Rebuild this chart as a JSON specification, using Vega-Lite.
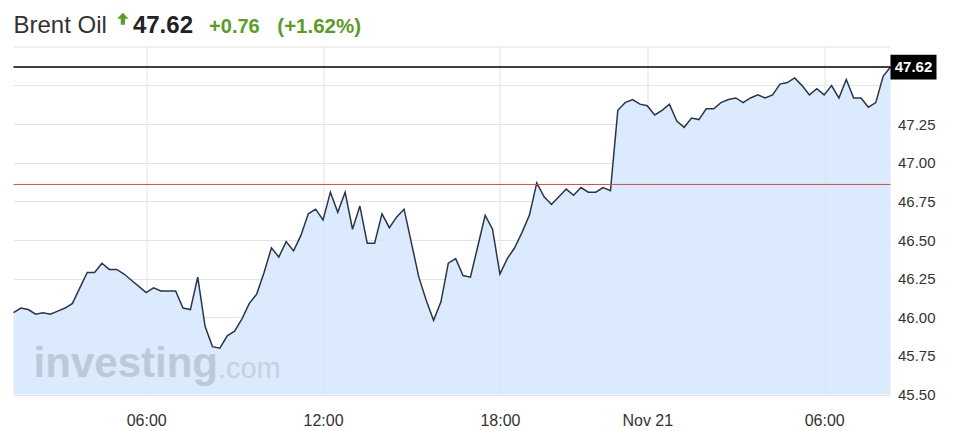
{
  "$schema": "https://vega.github.io/schema/vega-lite/v6.json",
  "width": 877,
  "height": 347.5,
  "autosize": {"type": "none"},
  "padding": {"left": 13.5, "top": 47, "right": 62.5, "bottom": 36.5},
  "background": "#ffffff",
  "datasets": {
    "prices": [
      {"time": "11-20 01:30", "price": 46.03}, {"time": "11-20 01:45", "price": 46.06}, {"time": "11-20 02:00", "price": 46.05}, {"time": "11-20 02:15", "price": 46.02},
      {"time": "11-20 02:30", "price": 46.03}, {"time": "11-20 02:45", "price": 46.02}, {"time": "11-20 03:00", "price": 46.04}, {"time": "11-20 03:15", "price": 46.06},
      {"time": "11-20 03:30", "price": 46.09}, {"time": "11-20 03:45", "price": 46.19}, {"time": "11-20 04:00", "price": 46.29}, {"time": "11-20 04:15", "price": 46.29},
      {"time": "11-20 04:30", "price": 46.35}, {"time": "11-20 04:45", "price": 46.31}, {"time": "11-20 05:00", "price": 46.31}, {"time": "11-20 05:15", "price": 46.28},
      {"time": "11-20 05:30", "price": 46.24}, {"time": "11-20 05:45", "price": 46.2}, {"time": "11-20 06:00", "price": 46.16}, {"time": "11-20 06:15", "price": 46.19},
      {"time": "11-20 06:30", "price": 46.17}, {"time": "11-20 06:45", "price": 46.17}, {"time": "11-20 07:00", "price": 46.17}, {"time": "11-20 07:15", "price": 46.06},
      {"time": "11-20 07:30", "price": 46.05}, {"time": "11-20 07:45", "price": 46.26}, {"time": "11-20 08:00", "price": 45.94}, {"time": "11-20 08:15", "price": 45.81},
      {"time": "11-20 08:30", "price": 45.8}, {"time": "11-20 08:45", "price": 45.88}, {"time": "11-20 09:00", "price": 45.91}, {"time": "11-20 09:15", "price": 45.99},
      {"time": "11-20 09:30", "price": 46.09}, {"time": "11-20 09:45", "price": 46.15}, {"time": "11-20 10:00", "price": 46.29}, {"time": "11-20 10:15", "price": 46.45},
      {"time": "11-20 10:30", "price": 46.39}, {"time": "11-20 10:45", "price": 46.49}, {"time": "11-20 11:00", "price": 46.43}, {"time": "11-20 11:15", "price": 46.53},
      {"time": "11-20 11:30", "price": 46.67}, {"time": "11-20 11:45", "price": 46.7}, {"time": "11-20 12:00", "price": 46.63}, {"time": "11-20 12:15", "price": 46.81},
      {"time": "11-20 12:30", "price": 46.68}, {"time": "11-20 12:45", "price": 46.81}, {"time": "11-20 13:00", "price": 46.57}, {"time": "11-20 13:15", "price": 46.72},
      {"time": "11-20 13:30", "price": 46.48}, {"time": "11-20 13:45", "price": 46.48}, {"time": "11-20 14:00", "price": 46.67}, {"time": "11-20 14:15", "price": 46.58},
      {"time": "11-20 14:30", "price": 46.65}, {"time": "11-20 14:45", "price": 46.7}, {"time": "11-20 15:00", "price": 46.48}, {"time": "11-20 15:15", "price": 46.26},
      {"time": "11-20 15:30", "price": 46.11}, {"time": "11-20 15:45", "price": 45.98}, {"time": "11-20 16:00", "price": 46.1}, {"time": "11-20 16:15", "price": 46.35},
      {"time": "11-20 16:30", "price": 46.38}, {"time": "11-20 16:45", "price": 46.27}, {"time": "11-20 17:00", "price": 46.26}, {"time": "11-20 17:15", "price": 46.46},
      {"time": "11-20 17:30", "price": 46.66}, {"time": "11-20 17:45", "price": 46.57}, {"time": "11-20 18:00", "price": 46.28}, {"time": "11-20 18:15", "price": 46.38},
      {"time": "11-20 18:30", "price": 46.45}, {"time": "11-20 18:45", "price": 46.55}, {"time": "11-20 19:00", "price": 46.66}, {"time": "11-20 19:15", "price": 46.87},
      {"time": "11-20 19:30", "price": 46.78}, {"time": "11-20 19:45", "price": 46.73}, {"time": "11-20 20:00", "price": 46.78}, {"time": "11-20 20:15", "price": 46.83},
      {"time": "11-20 20:30", "price": 46.79}, {"time": "11-20 20:45", "price": 46.84}, {"time": "11-20 21:00", "price": 46.81}, {"time": "11-20 21:15", "price": 46.81},
      {"time": "11-20 21:30", "price": 46.84}, {"time": "11-20 21:45", "price": 46.82}, {"time": "11-20 23:00", "price": 47.34}, {"time": "11-20 23:15", "price": 47.39},
      {"time": "11-20 23:30", "price": 47.41}, {"time": "11-20 23:45", "price": 47.38}, {"time": "11-21 00:00", "price": 47.37}, {"time": "11-21 00:15", "price": 47.31},
      {"time": "11-21 00:30", "price": 47.34}, {"time": "11-21 00:45", "price": 47.38}, {"time": "11-21 01:00", "price": 47.27}, {"time": "11-21 01:15", "price": 47.23},
      {"time": "11-21 01:30", "price": 47.29}, {"time": "11-21 01:45", "price": 47.28}, {"time": "11-21 02:00", "price": 47.35}, {"time": "11-21 02:15", "price": 47.35},
      {"time": "11-21 02:30", "price": 47.39}, {"time": "11-21 02:45", "price": 47.41}, {"time": "11-21 03:00", "price": 47.42}, {"time": "11-21 03:15", "price": 47.39},
      {"time": "11-21 03:30", "price": 47.42}, {"time": "11-21 03:45", "price": 47.44}, {"time": "11-21 04:00", "price": 47.42}, {"time": "11-21 04:15", "price": 47.44},
      {"time": "11-21 04:30", "price": 47.51}, {"time": "11-21 04:45", "price": 47.52}, {"time": "11-21 05:00", "price": 47.55}, {"time": "11-21 05:15", "price": 47.5},
      {"time": "11-21 05:30", "price": 47.44}, {"time": "11-21 05:45", "price": 47.48}, {"time": "11-21 06:00", "price": 47.44}, {"time": "11-21 06:15", "price": 47.5},
      {"time": "11-21 06:30", "price": 47.42}, {"time": "11-21 06:45", "price": 47.54}, {"time": "11-21 07:00", "price": 47.42}, {"time": "11-21 07:15", "price": 47.42},
      {"time": "11-21 07:30", "price": 47.36}, {"time": "11-21 07:45", "price": 47.39}, {"time": "11-21 08:00", "price": 47.56}, {"time": "11-21 08:15", "price": 47.62}
    ],
    "upperGrid": [{"level": 47.5}, {"level": 47.75}]
  },
  "config": {
    "view": {"stroke": null},
    "font": "Liberation Sans",
    "axis": {"ticks": false, "domain": false, "gridColor": "#e3e3e3", "gridWidth": 1, "labelFont": "Liberation Sans", "labelColor": "#333333", "title": null, "labelOverlap": false}
  },
  "layer": [
    {
      "data": {"name": "upperGrid"},
      "mark": {"type": "rule", "color": "#e3e3e3", "strokeWidth": 1},
      "encoding": {"y": {"field": "level", "type": "quantitative"}}
    },
    {
      "data": {"name": "prices"},
      "mark": {"type": "area", "color": "#d5e6fc", "opacity": 0.85},
      "encoding": {
        "x": {"field": "time", "type": "ordinal", "scale": {"type": "point", "padding": 0},
              "axis": {"title": null, "values": ["11-20 06:00", "11-20 12:00", "11-20 18:00", "11-21 00:00", "11-21 06:00"],
                       "labelExpr": "datum.value == '11-21 00:00' ? 'Nov 21' : substring(datum.value, 6, 11)",
                       "labelAngle": 0, "labelFontSize": 16, "labelPadding": 18, "grid": true, "labelOverlap": false}},
        "y": {"field": "price", "type": "quantitative", "scale": {"domain": [45.5, 47.75], "zero": false, "nice": false},
              "axis": {"title": null, "orient": "right", "values": [45.5, 45.75, 46, 46.25, 46.5, 46.75, 47, 47.25],
                       "format": ".2f", "tickCount": 10,
                       "labelFontSize": 15, "labelPadding": 7, "grid": true, "labelOverlap": false}},
        "y2": {"datum": 45.5}
      }
    },
    {
      "data": {"name": "prices"},
      "mark": {"type": "line", "color": "#2b3548", "strokeWidth": 1.5},
      "encoding": {
        "x": {"field": "time", "type": "ordinal"},
        "y": {"field": "price", "type": "quantitative"}
      }
    },
    {
      "data": {"values": [{}]},
      "mark": {"type": "rule", "color": "#c9534d", "strokeWidth": 1},
      "encoding": {"y": {"datum": 46.86, "type": "quantitative"}}
    },
    {
      "data": {"values": [{}]},
      "mark": {"type": "rule", "color": "#000000", "strokeWidth": 1.5},
      "encoding": {"y": {"datum": 47.62, "type": "quantitative"}}
    },
    {
      "data": {"values": [{}]},
      "mark": {"type": "point", "shape": "M0,-0.54H2V0.54H0Z", "filled": true, "color": "#000000", "opacity": 1, "size": 2116, "strokeWidth": 0},
      "encoding": {"x": {"datum": "11-21 08:15", "type": "ordinal"}, "y": {"datum": 47.62, "type": "quantitative"}}
    },
    {
      "data": {"values": [{"label": "47.62"}]},
      "mark": {"type": "text", "color": "#ffffff", "fontWeight": "bold", "fontSize": 15, "align": "center", "baseline": "middle", "dx": 23, "font": "Liberation Sans"},
      "encoding": {"x": {"datum": "11-21 08:15", "type": "ordinal"}, "y": {"datum": 47.62, "type": "quantitative"}, "text": {"field": "label"}}
    },
    {
      "data": {"values": [{"label": "Brent Oil"}]},
      "mark": {"type": "text", "color": "#333333", "fontWeight": "normal", "fontSize": 24, "align": "left", "baseline": "alphabetic", "dx": 0, "font": "Liberation Sans"},
      "encoding": {"x": {"datum": "11-20 01:30", "type": "ordinal"}, "y": {"datum": 47.841, "type": "quantitative"}, "text": {"field": "label"}}
    },
    {
      "data": {"values": [{}]},
      "mark": {"type": "point", "shape": "M-0.2,-1L0.75,0L0.15,0L0.15,1L-0.55,1L-0.55,0L-1.15,0Z", "filled": true, "color": "#5a9b2a", "opacity": 1, "size": 144, "strokeWidth": 0},
      "encoding": {"x": {"datum": "11-20 05:15", "type": "ordinal"}, "y": {"datum": 47.933, "type": "quantitative"}}
    },
    {
      "data": {"values": [{"label": "47.62"}]},
      "mark": {"type": "text", "color": "#222222", "fontWeight": "bold", "fontSize": 24, "align": "left", "baseline": "alphabetic", "dx": 1.5, "font": "Liberation Sans"},
      "encoding": {"x": {"datum": "11-20 05:30", "type": "ordinal"}, "y": {"datum": 47.841, "type": "quantitative"}, "text": {"field": "label"}}
    },
    {
      "data": {"values": [{"label": "+0.76"}]},
      "mark": {"type": "text", "color": "#5a9b2a", "fontWeight": "bold", "fontSize": 20, "align": "left", "baseline": "alphabetic", "dx": 4, "font": "Liberation Sans"},
      "encoding": {"x": {"datum": "11-20 08:00", "type": "ordinal"}, "y": {"datum": 47.841, "type": "quantitative"}, "text": {"field": "label"}}
    },
    {
      "data": {"values": [{"label": "(+1.62%)"}]},
      "mark": {"type": "text", "color": "#5a9b2a", "fontWeight": "bold", "fontSize": 20.5, "align": "left", "baseline": "alphabetic", "dx": -1.5, "font": "Liberation Sans"},
      "encoding": {"x": {"datum": "11-20 10:30", "type": "ordinal"}, "y": {"datum": 47.841, "type": "quantitative"}, "text": {"field": "label"}}
    },
    {
      "data": {"values": [{"label": "investing"}]},
      "mark": {"type": "text", "color": "#a9b4c2", "opacity": 0.6, "fontWeight": "bold", "fontSize": 42, "align": "left", "baseline": "alphabetic", "dx": -2, "font": "Liberation Sans"},
      "encoding": {"x": {"datum": "11-20 02:15", "type": "ordinal"}, "y": {"datum": 45.613, "type": "quantitative"}, "text": {"field": "label"}}
    },
    {
      "data": {"values": [{"label": ".com"}]},
      "mark": {"type": "text", "color": "#a9b4c2", "opacity": 0.45, "fontWeight": "normal", "fontSize": 29, "align": "left", "baseline": "alphabetic", "dx": -2, "font": "Liberation Sans"},
      "encoding": {"x": {"datum": "11-20 08:30", "type": "ordinal"}, "y": {"datum": 45.607, "type": "quantitative"}, "text": {"field": "label"}}
    }
  ]
}
